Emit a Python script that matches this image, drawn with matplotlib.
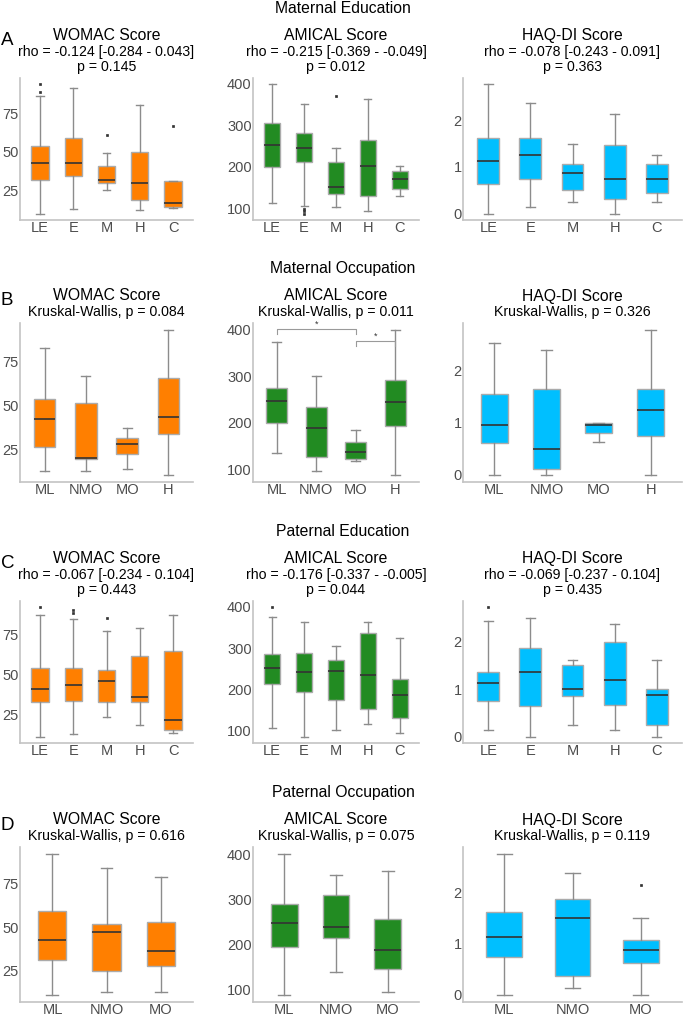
#!/usr/bin/env python3

import matplotlib.pyplot as plt
import numpy as np

plt.rcParams['font.family'] = ['Liberation Sans', 'DejaVu Sans']

W, H = 685, 1019

# category labels
edu_groups = ["LE", "E", "M", "H", "C"]
mat_occ_groups = ["ML", "NMO", "MO", "H"]
pat_occ_groups = ["ML", "NMO", "MO"]

# box stats per group: [whisker low, q1, median, q3, whisker high]
# A - Maternal education
mat_edu_womac = [[10, 32, 43, 54, 86], [13, 34, 43, 59, 91], [25, 30, 32, 41, 49],
                 [12, 19, 29.5, 50, 80], [13.5, 14, 17, 31, 31]]
mat_edu_womac_out = [[93.5, 88.5], [], [61], [], [66.5]]
mat_edu_amical = [[112, 200, 252, 304, 398], [106, 210, 244, 282, 352], [102, 134, 152, 212, 244],
                  [94, 130, 202, 264, 362], [130, 146, 170, 190, 202]]
mat_edu_amical_out = [[], [97, 92, 87], [370], [], []]
mat_edu_haq = [[0, 0.63, 1.12, 1.63, 2.77], [0.13, 0.75, 1.25, 1.63, 2.38], [0.25, 0.5, 0.87, 1.06, 1.5],
               [0, 0.31, 0.75, 1.47, 2.13], [0.25, 0.44, 0.75, 1.06, 1.25]]
mat_edu_haq_out = [[], [], [], [], []]

# B - Maternal occupation
mat_occ_womac = [[12.5, 26.5, 42, 53.5, 82.5], [12.5, 19.5, 20.2, 51, 66.5], [13.5, 22.5, 27.7, 31.5, 37],
                 [10.5, 33.7, 43, 65.5, 92.5]]
mat_occ_womac_out = [[], [], [], []]
mat_occ_amical = [[136, 200, 246, 274, 373], [96, 127, 188, 233, 301], [118, 123, 138, 159, 184],
                  [89, 194, 244, 291, 398]]
mat_occ_amical_out = [[], [], [], []]
mat_occ_haq = [[0, 0.6, 0.95, 1.54, 2.53], [0, 0.12, 0.5, 1.64, 2.4], [0.62, 0.81, 0.95, 1.0, 1.0],
               [0, 0.75, 1.25, 1.64, 2.77]]
mat_occ_haq_out = [[], [], [], []]
# significance brackets: (group from, group to, height, label)
mat_occ_amical_sig = [(1, 3, 400, "*"), (3, 4, 375, "*")]

# C - Paternal education
pat_edu_womac = [[10.8, 32.3, 40.6, 54.2, 87.5], [12.1, 33.3, 43.3, 54, 84.8], [22.9, 32.3, 45.8, 53.1, 77.5],
                 [18.1, 32.3, 36, 61.9, 79.4], [13.1, 15.2, 21, 65, 87.5]]
pat_edu_womac_out = [[92.3], [91, 89], [85.4], [], []]
pat_edu_amical = [[106, 213, 251, 286, 374], [86, 194, 242, 288, 362], [102, 174, 244, 272, 304],
                  [116, 152, 235, 336, 362], [94, 130, 187, 224, 324]]
pat_edu_amical_out = [[398], [], [], [], []]
pat_edu_haq = [[0.14, 0.76, 1.13, 1.37, 2.45], [0, 0.64, 1.37, 1.87, 2.5], [0.25, 0.85, 1.0, 1.52, 1.62],
               [0.14, 0.66, 1.19, 1.99, 2.38], [0, 0.25, 0.87, 1.0, 1.62]]
pat_edu_haq_out = [[2.73], [], [], [], []]

# D - Paternal occupation
pat_occ_womac = [[11, 31.2, 42.8, 59.3, 91.9], [12.8, 25, 46.9, 51.6, 84], [12.8, 27.4, 36.4, 53.1, 78.7]]
pat_occ_womac_out = [[], [], []]
pat_occ_amical = [[87, 193, 246, 288, 400], [139, 214, 239, 308, 353], [93, 145, 187, 256, 362]]
pat_occ_amical_out = [[], [], []]
pat_occ_haq = [[0, 0.74, 1.12, 1.62, 2.74], [0.13, 0.37, 1.49, 1.87, 2.37], [0, 0.62, 0.87, 1.06, 1.49]]
pat_occ_haq_out = [[], [], [2.13]]

sections = ["Maternal Education", "Maternal Occupation", "Paternal Education", "Paternal Occupation"]
letters = ["A", "B", "C", "D"]
score_names = ["WOMAC Score", "AMICAL Score", "HAQ-DI Score"]
subtitles = [
    [["rho = -0.124 [-0.284 - 0.043]", "p = 0.145"],
     ["rho = -0.215 [-0.369 - -0.049]", "p = 0.012"],
     ["rho = -0.078 [-0.243 - 0.091]", "p = 0.363"]],
    [["Kruskal-Wallis, p = 0.084"], ["Kruskal-Wallis, p = 0.011"], ["Kruskal-Wallis, p = 0.326"]],
    [["rho = -0.067 [-0.234 - 0.104]", "p = 0.443"],
     ["rho = -0.176 [-0.337 - -0.005]", "p = 0.044"],
     ["rho = -0.069 [-0.237 - 0.104]", "p = 0.435"]],
    [["Kruskal-Wallis, p = 0.616"], ["Kruskal-Wallis, p = 0.075"], ["Kruskal-Wallis, p = 0.119"]],
]
score_ticks = [[25, 50, 75], [100, 200, 300, 400], [0, 1, 2]]
score_colors = ["#FF7F00", "#228B22", "#00BFFF"]

rows = [
    (edu_groups, [(mat_edu_womac, mat_edu_womac_out), (mat_edu_amical, mat_edu_amical_out),
                  (mat_edu_haq, mat_edu_haq_out)]),
    (mat_occ_groups, [(mat_occ_womac, mat_occ_womac_out), (mat_occ_amical, mat_occ_amical_out),
                      (mat_occ_haq, mat_occ_haq_out)]),
    (edu_groups, [(pat_edu_womac, pat_edu_womac_out), (pat_edu_amical, pat_edu_amical_out),
                  (pat_edu_haq, pat_edu_haq_out)]),
    (pat_occ_groups, [(pat_occ_womac, pat_occ_womac_out), (pat_occ_amical, pat_occ_amical_out),
                      (pat_occ_haq, pat_occ_haq_out)]),
]

# layout in pixels
col_x = [(20, 193), (253, 419), (463, 682)]
row_y = [(78, 220), (323, 482), (601, 743), (847, 1002)]

TICK_GRAY = "#4D4D4D"
LINE_GRAY = "#8C8C8C"


def px_text(fig, x, y, s, **kw):
    fig.text(x / W, 1 - y / H, s, **kw)


def draw_box_panel(fig, box_px, cats, stats, outliers, color, yticks):
    '''
    Draw one boxplot panel in a ggplot-like style
    '''
    l, r, t, b = box_px
    ax = fig.add_axes([l / W, 1 - b / H, (r - l) / W, (b - t) / H])

    bstats = []
    for (lo, q1, med, q3, hi), out in zip(stats, outliers):
        bstats.append(dict(whislo=lo, q1=q1, med=med, q3=q3, whishi=hi, fliers=out))

    ax.bxp(bstats, positions=np.arange(1, len(cats) + 1), widths=0.52,
           capwidths=0.22, patch_artist=True, manage_ticks=False,
           boxprops=dict(facecolor=color, edgecolor="#ABABAB", linewidth=1.0),
           medianprops=dict(color="#333333", linewidth=1.2),
           whiskerprops=dict(color=LINE_GRAY, linewidth=1.0),
           capprops=dict(color=LINE_GRAY, linewidth=1.0),
           flierprops=dict(marker="s", markersize=2.0, markerfacecolor="#333333",
                           markeredgecolor="#333333", markeredgewidth=0.5))

    # ggplot style expansion of y range
    vals = [v for s in stats for v in (s[0], s[4])] + [v for o in outliers for v in o]
    lo, hi = min(vals), max(vals)
    pad = 0.05 * (hi - lo)
    ax.set_ylim(lo - pad, hi + pad)
    ax.set_xlim(0.4, len(cats) + 0.6)

    ax.set_xticks(np.arange(1, len(cats) + 1))
    ax.set_xticklabels(cats)
    ax.set_yticks(yticks)
    ax.tick_params(length=0, labelsize=10.5, labelcolor=TICK_GRAY, pad=1)
    for side in ["top", "right"]:
        ax.spines[side].set_visible(False)
    for side in ["left", "bottom"]:
        ax.spines[side].set_color("#C4C4C4")
        ax.spines[side].set_linewidth(1.2)
    ax.set_facecolor("white")
    return ax


fig = plt.figure(figsize=(W / 100, H / 100), dpi=100)

for i, (cats, panels) in enumerate(rows):
    t, b = row_y[i]
    n_sub = len(subtitles[i][0])
    title_y = t - 11 - 15.5 * (n_sub - 1) - 16
    px_text(fig, 343, title_y - 27, sections[i], ha="center", va="center", fontsize=11.3)
    px_text(fig, 1, title_y + 5, letters[i], ha="left", va="center", fontsize=13.5)

    for j, (stats, outs) in enumerate(panels):
        l, r = col_x[j]
        ax = draw_box_panel(fig, (l, r, t, b), cats, stats, outs, score_colors[j], score_ticks[j])
        cx = (l + r) / 2
        px_text(fig, cx, title_y, score_names[j], ha="center", va="center", fontsize=11.3)
        for k, line in enumerate(subtitles[i][j]):
            px_text(fig, cx, t - 11 - 15.5 * (n_sub - 1 - k), line,
                    ha="center", va="center", fontsize=10.2)

        # significance brackets for maternal occupation AMICAL
        if i == 1 and j == 1:
            for g1, g2, yb, lab in mat_occ_amical_sig:
                ax.plot([g1, g1, g2, g2], [yb - 10, yb, yb, yb - 10],
                        color="#9A9A9A", linewidth=0.8)
                ax.text((g1 + g2) / 2, yb + 1, lab, ha="center", va="bottom",
                        fontsize=6.5, color="#333333")

plt.savefig("out.png", dpi=100)
